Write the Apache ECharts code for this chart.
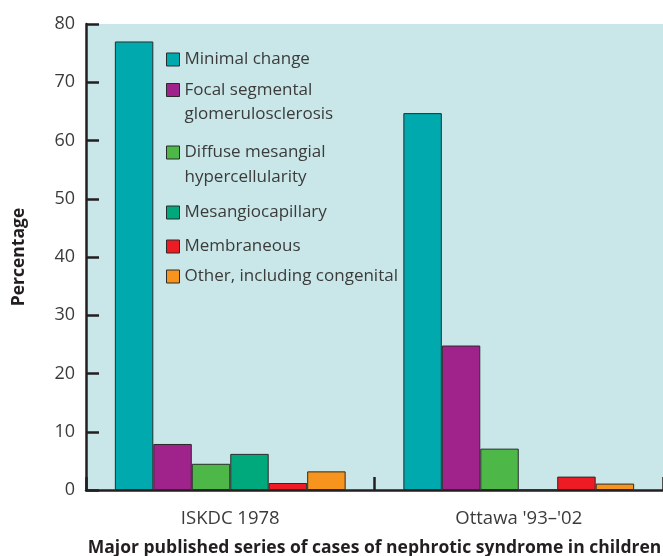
<!DOCTYPE html>
<html>
<head>
<meta charset="utf-8">
<script src="https://cdn.jsdelivr.net/npm/echarts@6/dist/echarts.min.js"></script>
<style>
  html, body { margin: 0; padding: 0; background: #ffffff; }
  #chart { width: 663px; height: 556px; }
</style>
</head>
<body>
<div id="chart"></div>
<script>
// Study series on the category axis
const categories = ['ISKDC 1978', "Ottawa '93\u2013'02"];

// Histological types (series names) and their legend captions
const seriesNames = [
  'Minimal change',
  'Focal segmental glomerulosclerosis',
  'Diffuse mesangial hypercellularity',
  'Mesangiocapillary',
  'Membraneous',
  'Other, including congenital'
];
const legendCaptions = [
  'Minimal change',
  'Focal segmental\nglomerulosclerosis',
  'Diffuse mesangial\nhypercellularity',
  'Mesangiocapillary',
  'Membraneous',
  'Other, including congenital'
];

// Percentage of cases per study
const minimalChange     = [77.0, 64.7];
const focalSegmental    = [7.9, 24.8];
const diffuseMesangial  = [4.5, 7.1];
const mesangiocapillary = [6.2, 0];
const membraneous       = [1.2, 2.3];
const otherCongenital   = [3.2, 1.1];

// Value axis range
const yMin = 0;
const yMax = 80;
const yStep = 10;

const seriesValues = [minimalChange, focalSegmental, diffuseMesangial, mesangiocapillary, membraneous, otherCongenital];
const colors = ['#00a9ad', '#a0228b', '#4db848', '#00a97c', '#ed1c24', '#f7941d'];

const FONT = '"Open Sans", "Noto Sans", sans-serif';
const TEXT = '#3b3b3b';
const AXIS = '#231f20';
const LINE_H = 24.5;
const ICON = 13;

// One legend block per entry; two-line captions get a leading blank line so the
// swatch (vertically centred on the text block) lines up with the first line.
const legendIconTops = [53, 83.5, 146, 206, 240, 270];
const legends = legendCaptions.map((caption, i) => {
  const multi = caption.indexOf('\n') >= 0;
  const text = multi ? '\n' + caption : caption;
  const lines = text.split('\n').length;
  const boxTop = Math.min(0, ICON / 2 - (lines * LINE_H) / 2);
  return {
    show: true,
    orient: 'vertical',
    left: 166,
    top: legendIconTops[i] + boxTop,
    padding: 0,
    itemWidth: ICON,
    itemHeight: ICON,
    itemGap: 0,
    icon: 'rect',
    selectedMode: false,
    data: [seriesNames[i]],
    formatter: () => text,
    itemStyle: { borderColor: '#2b2b2b', borderWidth: 1 },
    textStyle: {
      fontFamily: FONT,
      fontSize: 17,
      color: TEXT,
      lineHeight: LINE_H
    }
  };
});

const chart = echarts.init(document.getElementById('chart'), null, { renderer: 'canvas' });

chart.setOption({
  animation: false,
  backgroundColor: '#ffffff',
  color: colors,
  legend: legends,
  grid: {
    left: 86,
    right: 0,
    top: 24,
    bottom: 66,
    show: true,
    backgroundColor: '#c9e7e8',
    borderWidth: 0,
    containLabel: false,
    outerBoundsMode: 'none'
  },
  xAxis: {
    type: 'category',
    data: categories,
    name: 'Major published series of cases of nephrotic syndrome in children',
    nameLocation: 'middle',
    nameGap: 49,
    nameMoveOverlap: false,
    nameTextStyle: { fontFamily: FONT, fontSize: 17.5, fontWeight: 'bold', color: '#231f20' },
    axisLine: { lineStyle: { color: AXIS, width: 2.5 } },
    axisTick: { show: true, inside: true, length: 13, alignWithLabel: false, lineStyle: { color: AXIS, width: 2.5 } },
    axisLabel: { fontFamily: FONT, fontSize: 18.5, color: TEXT, margin: 19 },
    splitLine: { show: false }
  },
  yAxis: {
    type: 'value',
    min: yMin,
    max: yMax,
    interval: yStep,
    name: 'Percentage',
    nameLocation: 'middle',
    nameGap: 58,
    nameRotate: 90,
    nameMoveOverlap: false,
    nameTextStyle: { fontFamily: FONT, fontSize: 17.5, fontWeight: 'bold', color: '#231f20' },
    axisLine: { show: true, lineStyle: { color: AXIS, width: 2.5 } },
    axisTick: { show: true, inside: true, length: 13, lineStyle: { color: AXIS, width: 2.5 } },
    axisLabel: { fontFamily: FONT, fontSize: 18, color: TEXT, margin: 11 },
    splitLine: { show: false }
  },
  series: seriesNames.map((name, i) => ({
    name: name,
    type: 'bar',
    data: seriesValues[i],
    barGap: '0%',
    barCategoryGap: '20%',
    itemStyle: { color: colors[i], borderColor: '#2b2b2b', borderWidth: 1 }
  }))
});
</script>
</body>
</html>
